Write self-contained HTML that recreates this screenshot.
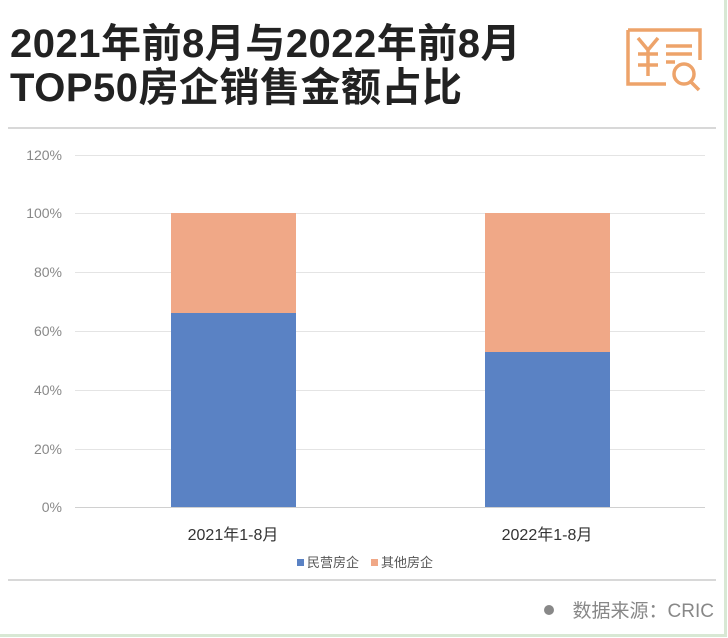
<!DOCTYPE html>
<html><head><meta charset="utf-8"><style>
body{margin:0;width:728px;height:638px;background:#fff;overflow:hidden;font-family:"Liberation Sans","Noto Sans CJK SC",sans-serif;}
.frame{position:absolute;left:0;top:0;width:724px;height:634px;border-right:3px solid #d8e8d4;border-bottom:3px solid #d8e8d4;}
.t{position:absolute;left:10px;font-size:40px;line-height:44px;font-weight:bold;color:#222;letter-spacing:0.5px;}
</style></head><body>
<div class="frame"></div>
<div class="t" style="top:22px">2021年前8月与2022年前8月</div>
<div class="t" style="top:66px">TOP50房企销售金额占比</div>
<svg width="728" height="638" style="position:absolute;left:0;top:0">
<g fill="none" stroke="#eda36a" stroke-width="3.5">
<path d="M628 30 H700 V60"/><path d="M628 30 V84 H666"/>
<circle cx="684" cy="74" r="10"/><path d="M691 82 L699 90"/>
<path d="M638 38 L648 50 L658 38 M648 50 V76 M638 54 H658 M638 65 H658"/>
<path d="M666 46 H692 M666 54 H692 M666 62 H675"/>
</g>
<line x1="8" y1="128" x2="716" y2="128" stroke="#ccc" stroke-width="1.5"/>
<g stroke="#e4e4e4" stroke-width="1">
<line x1="75" y1="155.5" x2="705" y2="155.5"/><line x1="75" y1="213.5" x2="705" y2="213.5"/>
<line x1="75" y1="272.5" x2="705" y2="272.5"/><line x1="75" y1="331.5" x2="705" y2="331.5"/>
<line x1="75" y1="390.5" x2="705" y2="390.5"/><line x1="75" y1="449.5" x2="705" y2="449.5"/>
</g>
<line x1="75" y1="507.5" x2="705" y2="507.5" stroke="#d0d0d0"/>
<g font-size="14" fill="#888" text-anchor="end" font-family="Liberation Sans,sans-serif">
<text x="62" y="160">120%</text><text x="62" y="218">100%</text><text x="62" y="277">80%</text>
<text x="62" y="336">60%</text><text x="62" y="395">40%</text><text x="62" y="454">20%</text><text x="62" y="512">0%</text>
</g>
<rect x="171" y="213" width="125" height="100" fill="#f0a887"/>
<rect x="171" y="313" width="125" height="194" fill="#5a82c4"/>
<rect x="485" y="213" width="125" height="139" fill="#f0a887"/>
<rect x="485" y="352" width="125" height="155" fill="#5a82c4"/>
<g font-size="16" fill="#333" text-anchor="middle" font-family="Liberation Sans,Noto Sans CJK SC,sans-serif">
<text x="233" y="540">2021年1-8月</text><text x="547" y="540">2022年1-8月</text>
</g>
<rect x="297" y="559" width="7" height="7" fill="#5a82c4"/>
<rect x="371" y="559" width="7" height="7" fill="#f0a887"/>
<g font-size="13" fill="#555" font-family="Liberation Sans,Noto Sans CJK SC,sans-serif">
<text x="307" y="567">民营房企</text><text x="381" y="567">其他房企</text>
</g>
<line x1="8" y1="580" x2="716" y2="580" stroke="#ccc" stroke-width="1.5"/>
<circle cx="549" cy="610" r="5" fill="#888"/>
<text x="714" y="617" text-anchor="end" font-size="19" fill="#888" font-family="Liberation Sans,Noto Sans CJK SC,sans-serif">数据来源：CRIC</text>
</svg>
</body></html>
